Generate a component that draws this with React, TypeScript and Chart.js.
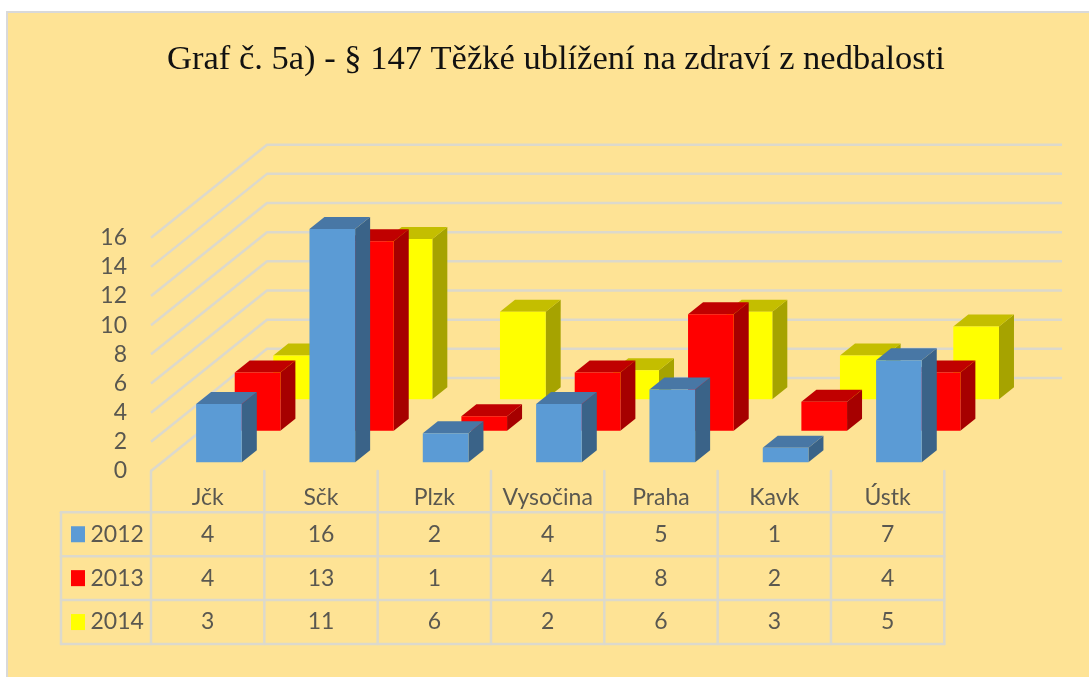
import React, { useEffect, useRef } from "react";
import { Chart, registerables } from "chart.js";

Chart.register(...registerables);

const titleText = "Graf č. 5a) - § 147 Těžké ublížení na zdraví z nedbalosti";
const categories = ["Jčk", "Sčk", "Plzk", "Vysočina", "Praha", "Kavk", "Ústk"];
const seriesNames = ["2012", "2013", "2014"];
const values2012 = [4, 16, 2, 4, 5, 1, 7];
const values2013 = [4, 13, 1, 4, 8, 2, 4];
const values2014 = [3, 11, 6, 2, 6, 3, 5];

const frontColors = ["#5B9BD5", "#FF0000", "#FFFF00"];
const topColors = ["#4877A5", "#C00000", "#C4BE00"];
const sideColors = ["#3A6388", "#A60000", "#A6A300"];

const BG = "#FEE395";
const LINE = "#DCD9CC";
const TEXT = "#5A5850";
const FONT = "Lato";
const FS = 23;

const W = 1089;
const H = 677;
const AREA = { left: 151, right: 944.3, top: 237.7, bottom: 471 };
const WALL = { dx: 116, dy: -93, right: 1062 };
const ROWS = { top: 512.3, step: 43.9, left: 61 };
const BAR_D = { dx: 15, dy: -12 };
const SHIFT = { x0: 11.3, y0: -8.7, dx: 38.6, dy: -31.5 };

const plugin3d = {
  id: "plugin3d",
  beforeDraw(chart: any) {
    const c = chart.ctx;
    c.save();
    c.fillStyle = "#FFFFFF";
    c.fillRect(0, 0, W, H);
    c.fillStyle = BG;
    c.fillRect(7, 12, W - 7, H - 12);
    c.strokeStyle = "#D9D9D9";
    c.lineWidth = 2;
    c.beginPath();
    c.moveTo(7, H);
    c.lineTo(7, 12);
    c.lineTo(W, 12);
    c.stroke();
    c.restore();
  },
  beforeDatasetsDraw(chart: any) {
    const c = chart.ctx;
    const { x: xs, y: ys } = chart.scales;
    c.save();
    c.strokeStyle = LINE;
    c.lineWidth = 2.5;
    c.lineJoin = "round";
    for (const t of ys.ticks) {
      const py = ys.getPixelForValue(t.value);
      c.beginPath();
      c.moveTo(xs.left, py);
      c.lineTo(xs.left + WALL.dx, py + WALL.dy);
      c.lineTo(WALL.right, py + WALL.dy);
      c.stroke();
    }
    c.restore();
  },
  beforeDatasetDraw(chart: any, args: any) {
    const c = chart.ctx;
    const i = args.index;
    c.save();
    c.translate(SHIFT.x0 + SHIFT.dx * i, SHIFT.y0 + SHIFT.dy * i);
    for (const el of args.meta.data) {
      const l = el.x - el.width / 2;
      const r = el.x + el.width / 2;
      const t = el.y;
      const b = el.base;
      c.fillStyle = sideColors[i];
      c.beginPath();
      c.moveTo(r, t);
      c.lineTo(r + BAR_D.dx, t + BAR_D.dy);
      c.lineTo(r + BAR_D.dx, b + BAR_D.dy);
      c.lineTo(r, b);
      c.closePath();
      c.fill();
      c.fillStyle = topColors[i];
      c.beginPath();
      c.moveTo(l, t);
      c.lineTo(l + BAR_D.dx, t + BAR_D.dy);
      c.lineTo(r + BAR_D.dx, t + BAR_D.dy);
      c.lineTo(r, t);
      c.closePath();
      c.fill();
    }
  },
  afterDatasetDraw(chart: any) {
    chart.ctx.restore();
  },
  afterDatasetsDraw(chart: any) {
    const c = chart.ctx;
    const { x: xs } = chart.scales;
    const n = categories.length;
    const step = (xs.right - xs.left) / n;
    const rowCount = chart.data.datasets.length;
    const tableBottom = ROWS.top + ROWS.step * rowCount;
    c.save();
    c.strokeStyle = LINE;
    c.lineWidth = 2.5;
    c.lineCap = "round";
    for (let k = 0; k <= n; k++) {
      const px = xs.left + step * k;
      c.beginPath();
      c.moveTo(px, AREA.bottom);
      c.lineTo(px, tableBottom);
      c.stroke();
    }
    for (let r = 0; r <= rowCount; r++) {
      const py = ROWS.top + ROWS.step * r;
      c.beginPath();
      c.moveTo(ROWS.left, py);
      c.lineTo(xs.right, py);
      c.stroke();
    }
    c.beginPath();
    c.moveTo(ROWS.left, ROWS.top);
    c.lineTo(ROWS.left, tableBottom);
    c.stroke();

    c.font = `${FS}px ${FONT}`;
    c.fillStyle = TEXT;
    c.textBaseline = "middle";
    chart.data.datasets.forEach((ds: any, r: number) => {
      const cy = ROWS.top + ROWS.step * (r + 0.5);
      c.fillStyle = ds.backgroundColor;
      c.fillRect(71, cy - 8, 14, 16);
      c.fillStyle = TEXT;
      c.textAlign = "left";
      c.fillText(ds.label, 90.5, cy);
      c.textAlign = "center";
      ds.data.forEach((v: number, k: number) => {
        c.fillText(String(v), xs.getPixelForValue(k), cy);
      });
    });
    c.restore();
  },
};

export default function App() {
  const ref = useRef<HTMLCanvasElement | null>(null);
  useEffect(() => {
    if (!ref.current) return;
    const allValues = [values2012, values2013, values2014];
    const chart = new Chart(ref.current, {
      type: "bar",
      data: {
        labels: categories,
        datasets: seriesNames.map((name, i) => ({
          label: name,
          data: allValues[i],
          backgroundColor: frontColors[i],
          borderWidth: 0,
          grouped: false,
          categoryPercentage: 1,
          barPercentage: 0.403,
          clip: false as any,
        })),
      },
      plugins: [plugin3d],
      options: {
        responsive: false,
        animation: false,
        layout: { padding: { left: 23, right: 0, top: 0, bottom: 0 } },
        plugins: {
          legend: { display: false },
          tooltip: { enabled: false },
          title: {
            display: true,
            text: titleText,
            color: "#111111",
            font: { family: "Liberation Serif", size: 34.5, weight: "normal", lineHeight: 1.2 },
            padding: { top: 39, bottom: AREA.top - 39 - 41.4 },
          },
        },
        scales: {
          x: {
            grid: { display: false, drawTicks: false },
            border: { display: false },
            ticks: {
              color: TEXT,
              font: { family: FONT, size: FS },
              padding: 12.5,
              autoSkip: false,
              maxRotation: 0,
              minRotation: 0,
            },
            afterFit(s: any) {
              s.height = H - AREA.bottom;
            },
          },
          y: {
            min: 0,
            max: 16,
            grid: { display: false, drawTicks: false },
            border: { display: false },
            ticks: {
              stepSize: 2,
              autoSkip: false,
              color: TEXT,
              font: { family: FONT, size: FS },
              padding: 24,
            },
            afterFit(s: any) {
              s.width = AREA.left - 23;
            },
          },
          spacer: {
            position: "right",
            display: true,
            min: 0,
            max: 16,
            grid: { display: false, drawTicks: false },
            border: { display: false },
            ticks: { display: false },
            afterFit(s: any) {
              s.width = W - AREA.right;
            },
          },
        },
      } as any,
    });
    return () => chart.destroy();
  }, []);
  return (
    <div style={{ position: "fixed", left: 0, top: 0, width: W, height: H }}>
      <canvas ref={ref} width={W} height={H} style={{ display: "block" }} />
    </div>
  );
}
